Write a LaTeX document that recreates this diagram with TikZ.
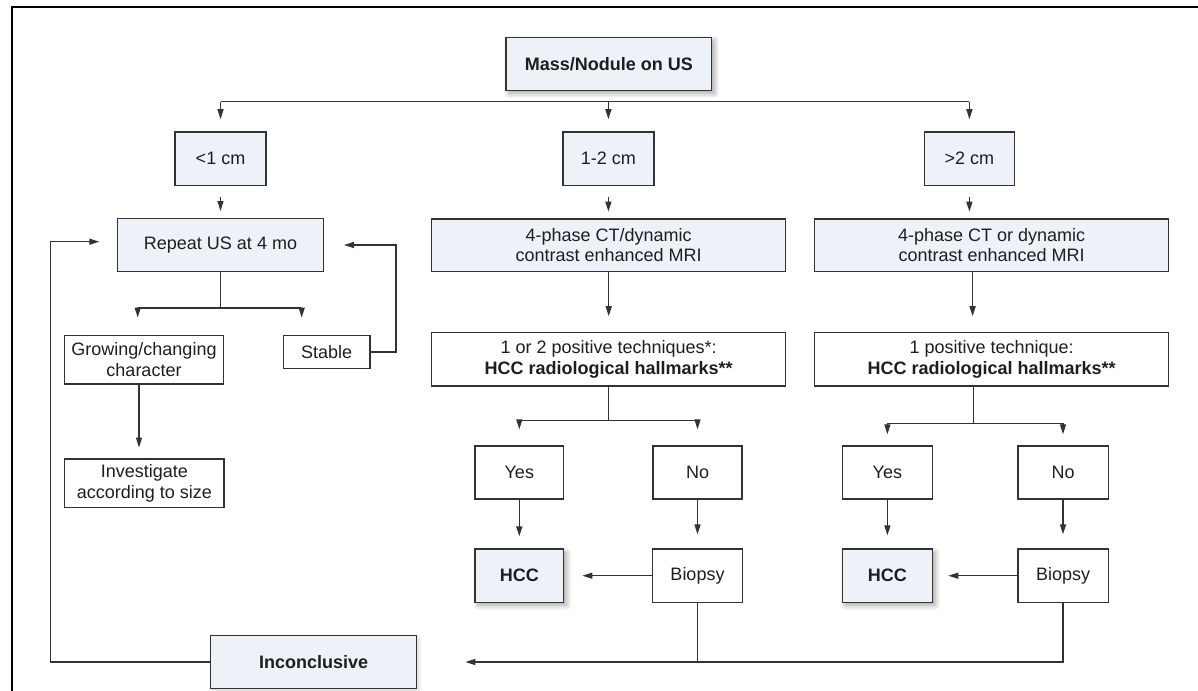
\documentclass[tikz,border=0pt]{standalone}
\usepackage{fontspec}
\setmainfont{Liberation Sans}
\usetikzlibrary{arrows.meta,shadows.blur}
\definecolor{boxfill}{HTML}{EDF1F8}
\definecolor{ink}{HTML}{333333}
\definecolor{txt}{HTML}{1E1E1E}
\begin{document}
\begin{tikzpicture}[x=1pt,y=-1pt,
  box/.style={draw=ink, line width=1.4pt, rectangle, inner sep=0pt, align=center, text=txt, font=\fontsize{18}{20.5}\selectfont},
  bluebox/.style={box, fill=boxfill},
  boldtxt/.style={font=\fontsize{18}{20.5}\selectfont\bfseries},
  shad/.style={blur shadow={shadow xshift=3pt, shadow yshift=-3pt, shadow blur steps=10, shadow blur radius=5pt, shadow opacity=35}},
  wire/.style={draw=ink, line width=1.3pt},
  arr/.style={wire, -{Triangle[width=6pt,length=10pt]}},
]
\useasboundingbox (0,0) rectangle (1198,690);
% frame
\draw[line width=2pt, black] (12.3,695) -- (12.3,7) -- (1203,7);

% nodes
\node[bluebox, shad, boldtxt, minimum width=205.8, minimum height=53.4] (mass) at (608.8,64) {Mass/Nodule on US};
\node[bluebox, minimum width=91, minimum height=53.7] (lt1) at (220.5,158.8) {<1 cm};
\node[bluebox, minimum width=91, minimum height=53.7] (m12) at (608.4,158.8) {1-2 cm};
\node[bluebox, minimum width=90.4, minimum height=53.7] (gt2) at (969.4,158.8) {>2 cm};

\node[bluebox, minimum width=205.6, minimum height=53.4] (rep) at (220.5,245) {Repeat US at 4 mo};
\node[bluebox, minimum width=354, minimum height=52.7] (ctm) at (608.7,245.3) {4-phase CT/dynamic\\contrast enhanced MRI};
\node[bluebox, minimum width=354, minimum height=52.7] (ctr) at (991.7,245.3) {4-phase CT or dynamic\\contrast enhanced MRI};

\node[box, minimum width=158.6, minimum height=48.3] (grow) at (144,359.8) {Growing/changing\\character};
\node[box, minimum width=86.7, minimum height=32.6] (stab) at (326.7,352) {Stable};
\node[box, minimum width=159.3, minimum height=48.7] (inv) at (144.3,483.3) {Investigate\\according to size};

\node[box, minimum width=354, minimum height=53.4] (pos12) at (608.7,359.2) {1 or 2 positive techniques*:\\\textbf{HCC radiological hallmarks**}};
\node[box, minimum width=354, minimum height=53.4] (pos1) at (991.7,359.2) {1 positive technique:\\\textbf{HCC radiological hallmarks**}};

\node[box, minimum width=88.7, minimum height=53] (yesm) at (519.3,472.5) {Yes};
\node[box, minimum width=89, minimum height=53] (nom) at (697.5,472.5) {No};
\node[bluebox, shad, boldtxt, minimum width=88.7, minimum height=53.3] (hccm) at (519.3,575.7) {HCC};
\node[box, minimum width=90, minimum height=53.3] (biom) at (697.5,575.7) {Biopsy};

\node[box, minimum width=90.4, minimum height=53] (yesr) at (887.4,472.5) {Yes};
\node[box, minimum width=90.4, minimum height=53] (nor) at (1063,472.5) {No};
\node[bluebox, shad, boldtxt, minimum width=90.4, minimum height=53.3] (hccr) at (887.4,575.7) {HCC};
\node[box, minimum width=90.4, minimum height=53.3] (bior) at (1063,575.7) {Biopsy};

\node[bluebox, boldtxt, blur shadow={shadow xshift=2pt, shadow yshift=-2pt, shadow blur steps=8, shadow blur radius=4pt, shadow opacity=18}, minimum width=206, minimum height=52.6] (inc) at (313.7,662) {Inconclusive};

% top bus
\coordinate (t1) at (220.5,101.7);
\coordinate (t2) at (608.4,101.7);
\coordinate (t3) at (969.4,101.7);
\draw[wire] (t1) -- (t3);
\draw[arr, shorten >=12] (t1) -- (lt1);
\draw[arr, shorten >=12] (t2) -- (m12);
\draw[arr, shorten >=12] (t3) -- (gt2);

% size boxes to imaging
\draw[arr, shorten <=10.3, shorten >=6.6] (lt1.south) -- (lt1.south |- rep.north);
\draw[arr, shorten <=10.3, shorten >=6.6] (m12.south) -- (m12.south |- ctm.north);
\draw[arr, shorten <=10.3, shorten >=6.6] (gt2.south) -- (gt2.south |- ctr.north);

% imaging to technique boxes
\draw[arr, shorten >=15.6] (ctm.south) -- (ctm.south |- pos12.north);
\draw[arr, shorten >=15.6] (972.6,0 |- ctr.south) -- (972.6,0 |- pos1.north);

% left branch
\draw[wire] (rep.south) -- ++(0,35.6) coordinate (b1);
\draw[arr, shorten >=17.4] (b1) -| (137.7,0 |- grow.north);
\draw[arr, shorten >=17.4] (b1) -| (301.7,0 |- stab.north);
\draw[arr, shorten >=10.7] (139,0 |- grow.south) -- (139,0 |- inv.north);
\draw[arr, shorten >=20] (stab.east) -- (396,0 |- stab.east) |- (rep.east);
\draw[arr, shorten >=17.7] (inc.west) -- (50.7,0 |- inc.west) |- ([yshift=3.3pt]rep.west);

% middle branch
\draw[wire] (pos12.south) -- ++(0,33.6) coordinate (b2);
\draw[arr, shorten >=16] (b2) -| (yesm);
\draw[arr, shorten >=16] (b2) -| (nom);
\draw[arr, shorten >=12] (yesm) -- (hccm);
\draw[arr, shorten >=14] (nom) -- (biom);
\draw[arr, shorten >=18] (biom) -- (hccm);

% right branch
\draw[wire] (973.8,0 |- pos1.south) -- (973.8,423.3) coordinate (b3);
\draw[arr, shorten >=11] (b3) -| (yesr);
\draw[arr, shorten >=11] (b3) -| (nor);
\draw[arr, shorten >=13] (yesr) -- (hccr);
\draw[arr, shorten >=14] (nor) -- (bior);
\draw[arr, shorten >=15] (bior) -- (hccr);

% bottom collector
\draw[wire] (biom.south) -- (biom.south |- inc.east);
\draw[arr, shorten >=48] (bior.south) |- (inc.east);
\end{tikzpicture}
\end{document}
